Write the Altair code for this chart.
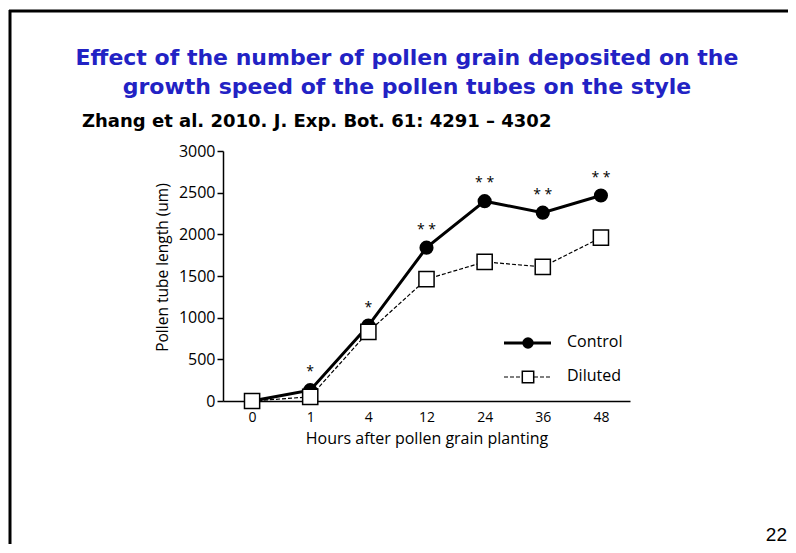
import altair as alt
import pandas as pd

hours = ["0", "1", "4", "12", "24", "36", "48"]
control = [0, 130, 905, 1840, 2398, 2260, 2466]
diluted = [0, 50, 830, 1462, 1669, 1610, 1960]
stars = ["", "*", "*", "* *", "* *", "* *", "* *"]

title_lines = ["Effect of the number of pollen grain deposited on the",
               "growth speed of the pollen tubes on the style"]
subtitle = "Zhang et al. 2010. J. Exp. Bot. 61: 4291 \u2013 4302"
page_no = "22"

W, H = 407, 250
FONT = "Open Sans"

df = pd.DataFrame({
    "hour": hours * 2,
    "value": control + diluted,
    "series": ["Control"] * len(hours) + ["Diluted"] * len(hours),
})
ctrl_df = df[df.series == "Control"].copy()
dil_df = df[df.series == "Diluted"].copy()
star_df = pd.DataFrame({"hour": hours, "value": control, "star": stars})

xenc = alt.X("hour:N", sort=hours,
             scale=alt.Scale(type="point", padding=0.5),
             axis=alt.Axis(title="Hours after pollen grain planting", labelAngle=0,
                           ticks=False, labelPadding=9, labelFontSize=14,
                           titleFontSize=16, titlePadding=6,
                           domainColor="black", domainWidth=1.5,
                           labelColor="black", titleColor="black",
                           labelFont=FONT, titleFont=FONT, titleFontWeight="normal"))
yenc = alt.Y("value:Q",
             scale=alt.Scale(domain=[0, 3000], nice=False),
             axis=alt.Axis(title="Pollen tube length (um)", values=[0, 500, 1000, 1500, 2000, 2500, 3000],
                           format="d",
                           tickSize=6, tickColor="black", tickWidth=1.5, labelPadding=2,
                           labelFontSize=16, titleFontSize=15.5, titlePadding=8, titleY=116,
                           domainColor="black", domainWidth=1.5, grid=False,
                           labelColor="black", titleColor="black",
                           labelFont=FONT, titleFont=FONT, titleFontWeight="normal"))

ctrl_line = alt.Chart(ctrl_df).mark_line(color="black", strokeWidth=3).encode(x=xenc, y=yenc)
ctrl_pts = alt.Chart(ctrl_df).mark_point(shape="circle", filled=True, color="black",
                                         size=200, opacity=1).encode(x=xenc, y=yenc)
dil_line = alt.Chart(dil_df).mark_line(color="black", strokeWidth=1.2,
                                       strokeDash=[4, 2]).encode(x=xenc, y=yenc)
dil_pts = alt.Chart(dil_df).mark_point(shape="square", filled=True, fill="white",
                                       stroke="black", strokeWidth=1.5, size=230,
                                       opacity=1).encode(x=xenc, y=yenc)
star_txt = alt.Chart(star_df).mark_text(font=FONT, fontSize=14, color="black",
                                        baseline="alphabetic", dy=-14).encode(
    x=xenc, y=yenc, text="star:N")

one = pd.DataFrame({"a": [0]})

def txt(s, x, y, size, color="black", weight="normal", align="left", font=FONT):
    return alt.Chart(one).mark_text(text=s, font=font, fontSize=size, color=color,
                                    fontWeight=weight, align=align, baseline="middle").encode(
        x=alt.value(x), y=alt.value(y))

BLUE = "#2222c4"
t1 = txt(title_lines[0], 184, -93, 22, BLUE, "bold", "center", "DejaVu Sans")
t2 = txt(title_lines[1], 184, -64, 22, BLUE, "bold", "center", "DejaVu Sans")
t3 = txt(subtitle, -141, -29, 18, "black", "bold", "left", "DejaVu Sans")
t4 = txt(page_no, 564, 384, 19, "black", "normal", "right", "Liberation Sans")

border_top = alt.Chart(one).mark_rule(color="black", strokeWidth=3).encode(
    x=alt.value(-214), x2=alt.value(600), y=alt.value(-140))
border_left = alt.Chart(one).mark_rule(color="black", strokeWidth=3).encode(
    x=alt.value(-213), y=alt.value(-141), y2=alt.value(420))

# legend
leg_c_line = alt.Chart(one).mark_rule(color="black", strokeWidth=3).encode(
    x=alt.value(281), x2=alt.value(328), y=alt.value(192))
leg_c_pt = alt.Chart(one).mark_point(shape="circle", filled=True, color="black", size=130,
                                     opacity=1).encode(x=alt.value(305), y=alt.value(192))
leg_d_line = alt.Chart(one).mark_rule(color="black", strokeWidth=1.2, strokeDash=[4, 2]).encode(
    x=alt.value(281), x2=alt.value(328), y=alt.value(226))
leg_d_pt = alt.Chart(one).mark_point(shape="square", filled=True, fill="white", stroke="black",
                                     strokeWidth=1.5, size=130, opacity=1).encode(
    x=alt.value(305), y=alt.value(226))
leg_c_txt = txt("Control", 344, 191, 16)
leg_d_txt = txt("Diluted", 344, 225, 16)

chart = alt.layer(
    border_top, border_left, t1, t2, t3, t4,
    ctrl_line, ctrl_pts, dil_line, dil_pts, star_txt,
    leg_c_line, leg_c_pt, leg_d_line, leg_d_pt, leg_c_txt, leg_d_txt,
).properties(
    width=W, height=H,
    autosize=alt.AutoSizeParams(type="none"),
    padding={"left": 215, "top": 143, "right": 158, "bottom": 143},
    background="white",
).configure_view(stroke=None)

chart.save("out.html", embed_options={"renderer": "svg", "actions": False})
